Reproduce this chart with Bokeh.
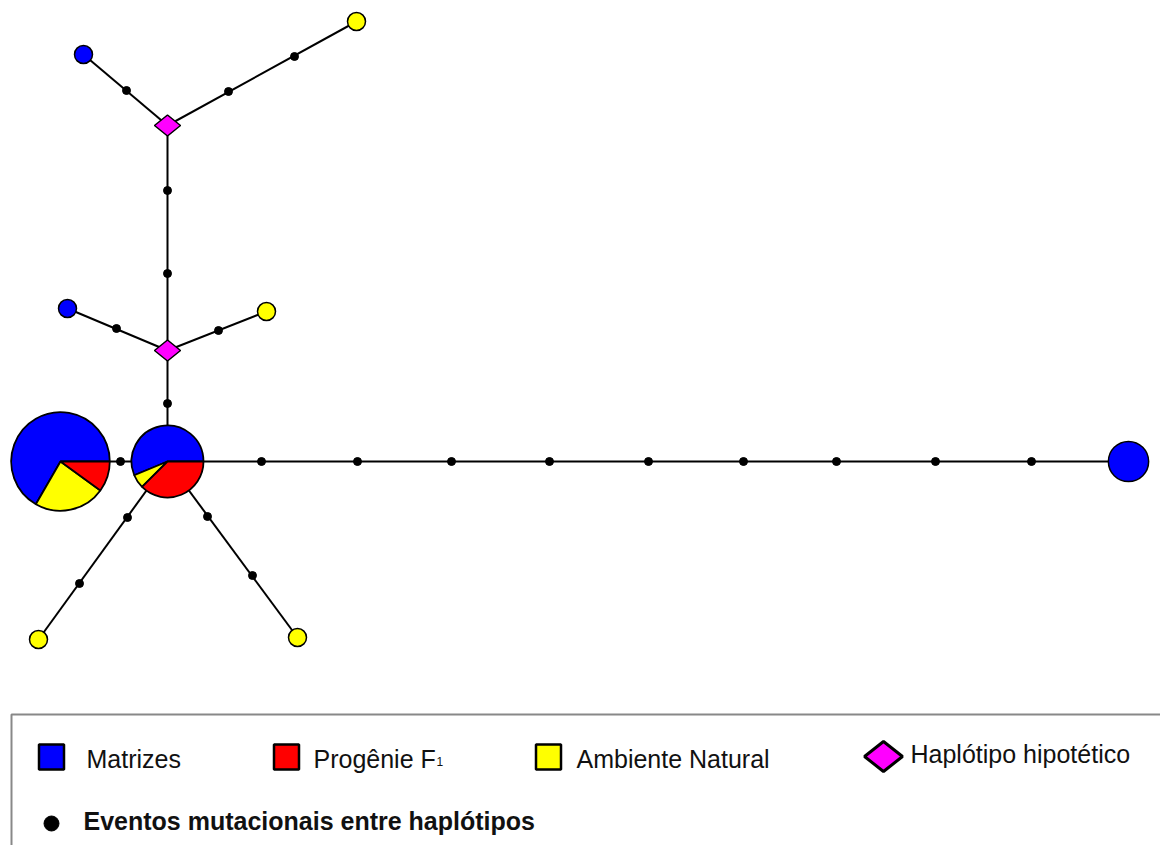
import math
from bokeh.plotting import figure
from bokeh.models import Range1d, ColumnDataSource
from bokeh.embed import file_html
from bokeh.resources import INLINE
from bokeh.core.properties import value

# ---------------- data ----------------
# haplotypes (network layout position, and counts per group)
hap_names = ["H1", "H2", "H3", "H4", "H5", "H6", "H7", "H8", "H9"]
hap_x = [60, 167, 1128, 67, 266, 83, 356, 38, 297]
hap_y = [461, 461, 461, 308, 311, 54, 21, 639, 637]
hap_matrizes = [20, 9, 5, 1, 0, 1, 0, 0, 0]
hap_ambiente = [7, 1, 0, 0, 1, 0, 1, 1, 1]
hap_progenie = [3, 6, 0, 0, 0, 0, 0, 0, 0]

# hypothetical (median) haplotypes
med_names = ["M1", "M2"]
med_x = [167, 167]
med_y = [350, 125]

# mutational steps
mut_x = [120, 261, 357, 451, 549, 648, 743, 836, 935, 1031,
         167, 167, 167, 116, 218, 126, 228, 294, 127, 79, 207, 252]
mut_y = [461, 461, 461, 461, 461, 461, 461, 461, 461, 461,
         403, 273, 190, 328, 330, 90, 91, 56, 517, 583, 516, 575]

# network edges
edges = [("H1", "H2"), ("H2", "H3"), ("H2", "M1"), ("M1", "H4"), ("M1", "H5"),
         ("M1", "M2"), ("M2", "H6"), ("M2", "H7"), ("H2", "H8"), ("H2", "H9")]

group_labels = ["Matrizes", "Progênie F", "Ambiente Natural"]
group_colors = ["#0000FF", "#FF0000", "#FFFF00"]
median_label = "Haplótipo hipotético"
mutation_label = "Eventos mutacionais entre haplótipos"

# ---------------- figure ----------------
W, H = 1160, 845
p = figure(width=W, height=H, output_backend="svg", toolbar_location=None,
           x_range=Range1d(0, W), y_range=Range1d(H, 0),
           min_border=0, outline_line_color=None, background_fill_color="white")
p.axis.visible = False
p.xgrid.visible = False
p.ygrid.visible = False

pos = {}
for n, x, y in zip(hap_names, hap_x, hap_y):
    pos[n] = (x, y)
for n, x, y in zip(med_names, med_x, med_y):
    pos[n] = (x, y)

# edges
p.multi_line(xs=[[pos[a][0], pos[b][0]] for a, b in edges],
             ys=[[pos[a][1], pos[b][1]] for a, b in edges],
             line_color="black", line_width=2)

# mutation dots
p.scatter(mut_x, mut_y, marker="circle", size=8, fill_color="black", line_color="black")

# median vectors (diamonds wider than tall)
DW, DH = 13, 10.5
p.patches(xs=[[x - DW, x, x + DW, x] for x in med_x],
          ys=[[y, y - DH, y, y + DH] for y in med_y],
          fill_color="#FF00FF", line_color="black", line_width=1.5)

# haplotype pies
UNIT = 9.0
wx, wy, wr, ws, we, wc = [], [], [], [], [], []
cx, cy, cr, cc = [], [], [], []
for i in range(len(hap_names)):
    counts = [hap_matrizes[i], hap_ambiente[i], hap_progenie[i]]
    cols = [group_colors[0], group_colors[2], group_colors[1]]
    tot = sum(counts)
    r = UNIT * math.sqrt(tot)
    nz = [(c, col) for c, col in zip(counts, cols) if c > 0]
    if len(nz) == 1:
        cx.append(hap_x[i]); cy.append(hap_y[i]); cr.append(r); cc.append(nz[0][1])
        continue
    a = 0.0
    for c, col in nz:
        b = a + 2 * math.pi * c / tot
        wx.append(hap_x[i]); wy.append(hap_y[i]); wr.append(r)
        ws.append(a); we.append(b); wc.append(col)
        a = b

p.wedge(x="x", y="y", radius="r", radius_units="screen", start_angle="s", end_angle="e",
        direction="anticlock", fill_color="c", line_color="black", line_width=1.8,
        source=ColumnDataSource(dict(x=wx, y=wy, r=wr, s=ws, e=we, c=wc)))
p.circle(x="x", y="y", radius="r", radius_units="screen", fill_color="c",
         line_color="black", line_width=1.5,
         source=ColumnDataSource(dict(x=cx, y=cy, r=cr, c=cc)))

# ---------------- legend box ----------------
p.quad(left=[11], right=[1400], top=[714], bottom=[1000], fill_color="white",
       line_color="#888888", line_width=2)

FONT = value("Liberation Sans")
sq_x = [51, 286, 548]
tx_x = [86, 313, 576]
p.scatter(sq_x, [756.5] * 3, marker="square", size=25, fill_color=group_colors,
          line_color="black", line_width=2.5)
p.text(tx_x, [758] * 3, text=group_labels, text_font=FONT, text_font_size="25px",
       text_baseline="alphabetic", text_align="left", text_color="#111111")
p.text([436], [761], text=["1"], text_font=FONT, text_font_size="12px",
       text_baseline="alphabetic", text_align="left", text_color="#111111")

LW, LH = 19, 15
p.patches(xs=[[883 - LW, 883, 883 + LW, 883]], ys=[[756, 756 - LH, 756, 756 + LH]],
          fill_color="#FF00FF", line_color="black", line_width=3)
p.text([910], [753], text=[median_label], text_font=FONT, text_font_size="25px",
       text_baseline="alphabetic", text_align="left", text_color="#111111")

p.scatter([51], [823], marker="circle", size=15, fill_color="black", line_color="black")
p.text([83], [820], text=[mutation_label], text_font=FONT, text_font_size="25px",
       text_font_style="bold", text_baseline="alphabetic", text_align="left",
       text_color="#111111")

open("out.html", "w").write(file_html(p, INLINE))
